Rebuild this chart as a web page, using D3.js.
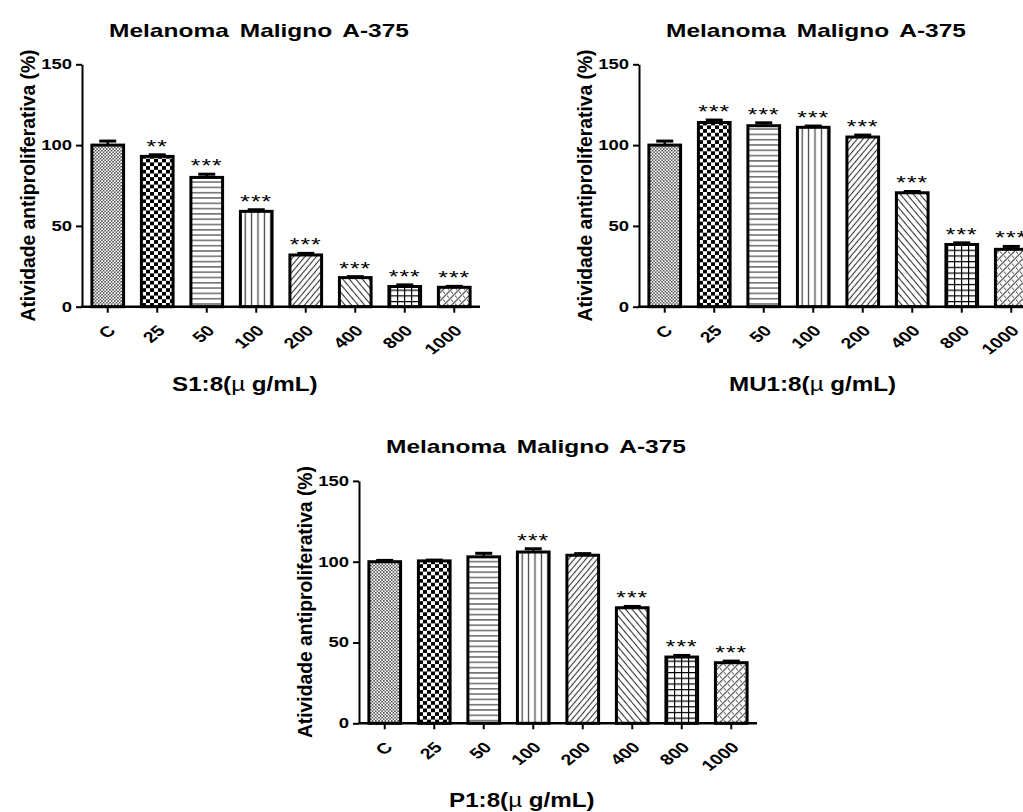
<!DOCTYPE html>
<html>
<head>
<meta charset="utf-8">
<script src="https://cdn.jsdelivr.net/npm/d3@7"></script>
<style>
  body { margin: 0; background: #fff; }
  svg { display: block; }
  text { font-family: "Liberation Sans", Arial, sans-serif; }
</style>
</head>
<body>
<svg id="fig" width="1023" height="812"></svg>
<script>
// Concentrations (µg/mL) and control
const categories = ["C", "25", "50", "100", "200", "400", "800", "1000"];
const yTicks = [0, 50, 100, 150];

// S1:8 extract
const s1Values = [100, 93, 80, 59, 32, 18, 12.5, 12];
const s1Errors = [2.5, 1, 2, 1, 1, 0.6, 1, 0.6];
const s1Marks  = ["", "**", "***", "***", "***", "***", "***", "***"];

// MU1:8 extract
const mu1Values = [100, 114, 112, 111, 105, 70.5, 38.5, 35.5];
const mu1Errors = [2.5, 1.5, 1.8, 0.8, 1.2, 0.8, 1, 1.8];
const mu1Marks  = ["", "***", "***", "***", "***", "***", "***", "***"];

// P1:8 extract
const p1Values = [100, 100.5, 103, 106, 104, 71.5, 41, 37.5];
const p1Errors = [0.8, 0.5, 2.2, 2, 1, 0.8, 1, 1];
const p1Marks  = ["", "", "", "***", "", "***", "***", "***"];

const panelTitle = "Melanoma Maligno A-375";
const yTitle = "Atividade antiproliferativa (%)";
const xTitles = ["S1:8", "MU1:8", "P1:8"];

const panels = [
  { values: s1Values,  errors: s1Errors,  marks: s1Marks,  xTitle: xTitles[0], ox: 82,  oy: 306.7, ty: 36.7,  xt: 391 },
  { values: mu1Values, errors: mu1Errors, marks: mu1Marks, xTitle: xTitles[1], ox: 639, oy: 306.7, ty: 36.7,  xt: 391 },
  { values: p1Values,  errors: p1Errors,  marks: p1Marks,  xTitle: xTitles[2], ox: 359, oy: 723.3, ty: 452.5, xt: 807 }
];

const svg = d3.select("#fig");
const defs = svg.append("defs");

// ---- fill patterns, one per concentration ----
function pat(id, w, h, transform) {
  const p = defs.append("pattern").attr("id", id)
    .attr("patternUnits", "userSpaceOnUse").attr("width", w).attr("height", h);
  if (transform) p.attr("patternTransform", transform);
  p.append("rect").attr("width", w).attr("height", h).attr("fill", "#fff");
  return p;
}
// fine dotted check
let p = pat("pt0", 3.2, 3.2);
p.append("rect").attr("width", 1.5).attr("height", 1.5).attr("fill", "#444");
p.append("rect").attr("x", 1.6).attr("y", 1.6).attr("width", 1.5).attr("height", 1.5).attr("fill", "#444");
// coarse checkerboard
p = pat("pt1", 8, 7.4);
p.append("rect").attr("width", 4).attr("height", 3.7).attr("fill", "#000");
p.append("rect").attr("x", 4).attr("y", 3.7).attr("width", 4).attr("height", 3.7).attr("fill", "#000");
// horizontal lines
p = pat("pt2", 8, 5.3);
p.append("line").attr("x1", 0).attr("x2", 8).attr("y1", 2.6).attr("y2", 2.6).attr("stroke", "#444").attr("stroke-width", 1.2);
// vertical lines
p = pat("pt3", 6.4, 8);
p.append("line").attr("x1", 3.2).attr("x2", 3.2).attr("y1", 0).attr("y2", 8).attr("stroke", "#444").attr("stroke-width", 1.3);
// forward diagonal
p = pat("pt4", 8, 4.4, "rotate(-50)");
p.append("line").attr("x1", 0).attr("x2", 8).attr("y1", 2.2).attr("y2", 2.2).attr("stroke", "#333").attr("stroke-width", 1.1);
// backward diagonal
p = pat("pt5", 8, 5, "rotate(50)");
p.append("line").attr("x1", 0).attr("x2", 8).attr("y1", 2.5).attr("y2", 2.5).attr("stroke", "#333").attr("stroke-width", 1.1);
// square grid
p = pat("pt6", 7, 5.7);
p.append("line").attr("x1", 0.6).attr("x2", 0.6).attr("y1", 0).attr("y2", 5.7).attr("stroke", "#000").attr("stroke-width", 1.2);
p.append("line").attr("x1", 0).attr("x2", 7).attr("y1", 0.6).attr("y2", 0.6).attr("stroke", "#000").attr("stroke-width", 1.2);
// broken diagonal weave
p = pat("pt7", 8, 8);
p.append("path").attr("d", "M0,8 L8,0 M-2,2 L2,-2 M6,10 L10,6").attr("stroke", "#333").attr("stroke-width", 1.1).attr("fill", "none");
p.append("path").attr("d", "M1,1 L3,3 M5,5 L7,7").attr("stroke", "#333").attr("stroke-width", 1).attr("fill", "none");

const plotH = 242.4;
const plotW = 398;

panels.forEach(cfg => {
  const g = svg.append("g").attr("transform", `translate(${cfg.ox},${cfg.oy})`);

  const x = d3.scaleBand().domain(categories).range([0, plotW])
    .paddingInner(0.36).paddingOuter(0.2);
  const y = d3.scaleLinear().domain([0, 150]).range([0, -plotH]);

  // bars
  g.selectAll("rect.bar").data(categories).join("rect")
    .attr("class", "bar")
    .attr("x", d => x(d))
    .attr("y", (d, i) => y(cfg.values[i]))
    .attr("width", x.bandwidth())
    .attr("height", (d, i) => -y(cfg.values[i]))
    .attr("fill", (d, i) => `url(#pt${i})`)
    .attr("stroke", "#000").attr("stroke-width", 3);

  // SD error bars (upper only)
  const eb = g.selectAll("g.err").data(categories).join("g").attr("class", "err");
  eb.append("line")
    .attr("x1", d => x(d) + x.bandwidth() / 2).attr("x2", d => x(d) + x.bandwidth() / 2)
    .attr("y1", (d, i) => y(cfg.values[i]))
    .attr("y2", (d, i) => y(cfg.values[i] + cfg.errors[i]))
    .attr("stroke", "#000").attr("stroke-width", 2.5);
  eb.append("line")
    .attr("x1", d => x(d) + x.bandwidth() / 2 - 8.5).attr("x2", d => x(d) + x.bandwidth() / 2 + 8.5)
    .attr("y1", (d, i) => y(cfg.values[i] + cfg.errors[i]))
    .attr("y2", (d, i) => y(cfg.values[i] + cfg.errors[i]))
    .attr("stroke", "#000").attr("stroke-width", 3);

  // significance marks
  g.selectAll("text.sig").data(categories).join("text")
    .attr("class", "sig")
    .attr("transform", (d, i) =>
      `translate(${x(d) + x.bandwidth() / 2},${y(cfg.values[i] + cfg.errors[i]) - 2}) scale(1.3,1)`)
    .attr("text-anchor", "middle")
    .attr("font-size", 19)
    .attr("letter-spacing", 0.8)
    .text((d, i) => cfg.marks[i]);

  // y axis
  const ya = g.append("g").call(d3.axisLeft(y).tickValues(yTicks).tickSize(6).tickSizeOuter(0).tickPadding(4));
  ya.select(".domain").attr("stroke", "#000").attr("stroke-width", 2);
  ya.selectAll(".tick line").attr("stroke", "#000").attr("stroke-width", 2);
  ya.selectAll(".tick text")
    .attr("font-size", 14).attr("font-weight", "bold").attr("fill", "#000")
    .attr("font-family", null)
    .each(function () {
      const t = d3.select(this);
      const tx = +t.attr("x");
      t.attr("transform", `translate(${tx},0) scale(1.32,1) translate(${-tx},0)`);
    });

  // x axis
  const xa = g.append("g").call(d3.axisBottom(x).tickSize(6).tickSizeOuter(0));
  xa.select(".domain").attr("stroke", "#000").attr("stroke-width", 2.4)
    .attr("d", `M-1,0H${plotW}`);
  xa.selectAll(".tick line").attr("stroke", "#000").attr("stroke-width", 2);
  xa.selectAll(".tick text")
    .attr("font-size", 15).attr("font-weight", "bold").attr("fill", "#000")
    .attr("font-family", null)
    .attr("x", null).attr("y", null).attr("dy", null)
    .attr("text-anchor", "end")
    .attr("transform", "translate(9,25) scale(1.3,1) rotate(-45)");

  // panel title
  g.append("text")
    .attr("transform", `translate(177,${cfg.ty - cfg.oy}) scale(1.4,1)`)
    .attr("text-anchor", "middle")
    .attr("font-size", 17.5).attr("font-weight", "bold")
    .attr("word-spacing", 3)
    .text(panelTitle);

  // y title
  g.append("text")
    .attr("transform", `translate(-47,${-plotH / 2}) rotate(-90)`)
    .attr("text-anchor", "middle")
    .attr("font-size", 19.5).attr("font-weight", "bold")
    .attr("textLength", 272).attr("lengthAdjust", "spacingAndGlyphs")
    .text(yTitle);

  // x title
  const xt = g.append("text")
    .attr("transform", `translate(90,${cfg.xt - cfg.oy}) scale(1.21,1)`)
    .attr("font-size", 20).attr("font-weight", "bold");
  xt.append("tspan").text(cfg.xTitle + "(");
  xt.append("tspan").attr("font-weight", "normal").text("\u00b5");
  xt.append("tspan").text(" g/mL)");
});
</script>
</body>
</html>
